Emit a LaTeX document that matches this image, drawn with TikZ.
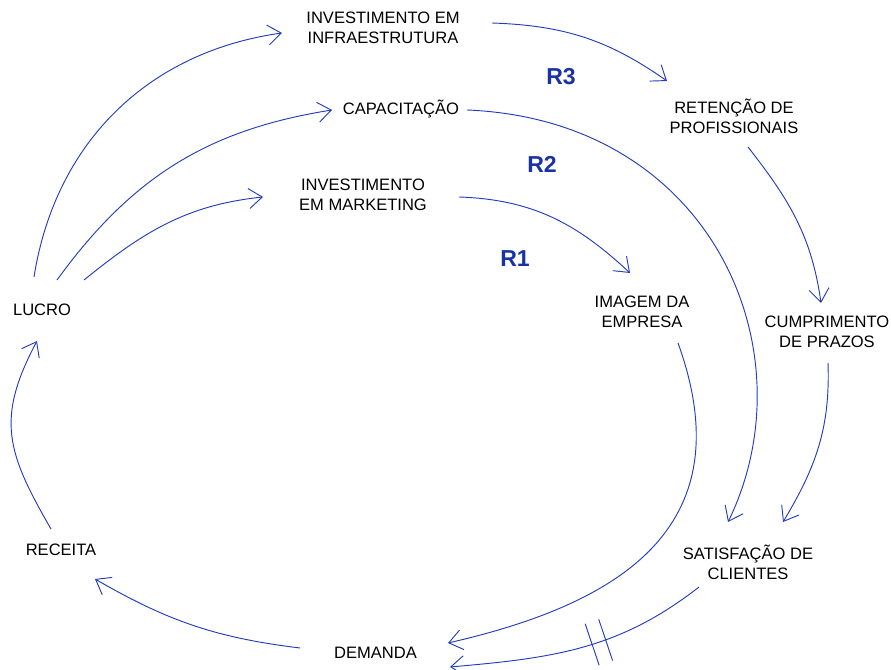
\documentclass[tikz,border=0pt]{standalone}
\usepackage{fontspec}
\setmainfont{Liberation Sans}
\usetikzlibrary{arrows.meta}
\definecolor{linkblue}{RGB}{35,60,190}
\definecolor{loopblue}{RGB}{25,50,165}

\begin{document}
\begin{tikzpicture}[x=0.75pt, y=0.75pt,
	var/.style={font=\fontsize{12.4}{15}\selectfont, align=center, inner sep=0pt},
	looplabel/.style={loopblue, font=\fontsize{17.3}{20}\selectfont\bfseries, inner sep=0pt},
	link/.style={linkblue, line width=0.7pt, -{Straight Barb[length=10pt, width=15pt]}},
	delaymark/.style={sloped, inner sep=0pt, minimum width=10pt, minimum height=32pt}]
	\useasboundingbox (0,0) rectangle (891,670);
	% variables
	\node[var] (lucro) at (42,360.5) {LUCRO};
	\node[var] (infra) at (383,642) {INVESTIMENTO EM\\INFRAESTRUTURA};
	\node[var] (capac) at (401,561) {CAPACITAÇÃO};
	\node[var] (mkt) at (363,475.5) {INVESTIMENTO\\EM MARKETING};
	\node[var] (retencao) at (734,554) {RETENÇÃO DE\\PROFISSIONAIS};
	\node[var] (imagem) at (642,358) {IMAGEM DA\\EMPRESA};
	\node[var] (cumpr) at (827,338.5) {CUMPRIMENTO\\DE PRAZOS};
	\node[var] (satisf) at (748,107.5) {SATISFAÇÃO DE\\CLIENTES};
	\node[var] (demanda) at (375.5,17) {DEMANDA};
	\node[var] (receita) at (61,120) {RECEITA};
	% loops
	\node[looplabel] (r3) at (561,593.5) {R3};
	\node[looplabel] (r2) at (542,506) {R2};
	\node[looplabel] (r1) at (515,411.5) {R1};
	% links
	\draw[link] ([shift={(-8,32.5)}]lucro.center) to[out=81, in=188] ([shift={(-101,-5)}]infra.center);
	\draw[link] ([shift={(15,29.5)}]lucro.center) to[out=54, in=189] ([shift={(-69,-1)}]capac.center);
	\draw[link] ([shift={(42,29.5)}]lucro.center) to[out=39, in=186] ([shift={(-100,-2.5)}]mkt.center);
	\draw[link] ([shift={(109,5)}]infra.center) to[out=-2, in=145] ([shift={(-67,35)}]retencao.center);
	\draw[link] ([shift={(66,-1)}]capac.center) .. controls +(246,-10) and +(83,170) .. ([shift={(-20,40.5)}]satisf.center);
	\draw[link] ([shift={(96,-2.5)}]mkt.center) to[out=-2, in=137] ([shift={(-12,39)}]imagem.center);
	\draw[link] ([shift={(14,-31)}]retencao.center) to[out=-52, in=98] ([shift={(-6,28.5)}]cumpr.center);
	\draw[link] ([shift={(1,-31.5)}]cumpr.center) to[out=-88, in=59] ([shift={(35,40.5)}]satisf.center);
	\draw[link] ([shift={(36,-31)}]imagem.center) .. controls +(68,-188) and +(166,38) .. ([shift={(72.5,10)}]demanda.center);
	\draw[link] ([shift={(-49,-24.5)}]satisf.center) to[out=218, in=5] node[delaymark, pos=0.43] (atraso) {} ([shift={(74.5,-14)}]demanda.center);
	\draw[linkblue, line width=0.7pt] (atraso.north west) -- (atraso.south west) (atraso.north east) -- (atraso.south east);
	\draw[link] ([shift={(-75.5,5)}]demanda.center) to[out=173, in=-30] ([shift={(34,-29)}]receita.center);
	\draw[link] ([shift={(-10,21)}]receita.center) to[out=120, in=-118, looseness=1.2] ([shift={(-5,-31.5)}]lucro.center);
\end{tikzpicture}
\end{document}
